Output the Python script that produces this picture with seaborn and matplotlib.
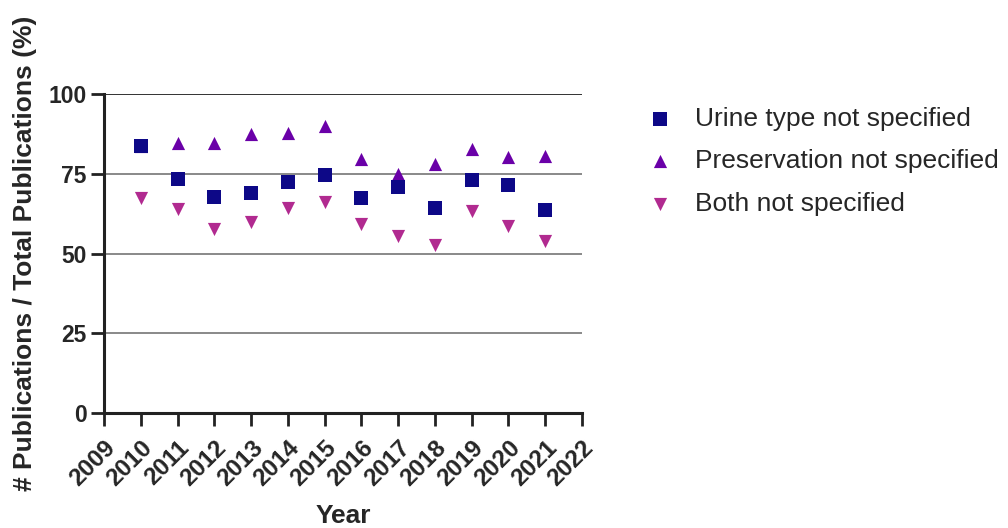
import numpy as np
import pandas as pd
import seaborn as sns
import matplotlib
matplotlib.use("Agg")
import matplotlib.pyplot as plt

years = [2010, 2011, 2012, 2013, 2014, 2015, 2016, 2017, 2018, 2019, 2020, 2021]
urine_type = [83.7, 73.4, 67.7, 69.1, 72.3, 74.5, 67.4, 70.8, 64.3, 73.1, 71.5, 63.7]
preservation = [83.7, 84.7, 84.6, 87.5, 87.9, 90.0, 79.6, 75.0, 78.0, 82.8, 80.1, 80.6]
both = [67.5, 64.0, 57.6, 60.0, 64.4, 66.1, 59.4, 55.5, 52.8, 63.3, 58.6, 53.9]

series_names = ["Urine type not specified", "Preservation not specified", "Both not specified"]
x_ticks = list(range(2009, 2023))
y_ticks = [0, 25, 50, 75, 100]

df = pd.DataFrame({
    "Year": years * 3,
    "value": urine_type + preservation + both,
    "series": np.repeat(series_names, len(years)),
})

sns.set_style("white")
plt.rcParams["font.family"] = ["Liberation Sans", "DejaVu Sans"]

fig = plt.figure(figsize=(10.08, 5.28), dpi=100)
ax = fig.add_axes([104 / 1008, 1 - 413 / 528, (582 - 104) / 1008, (413 - 94) / 528])

colors = {"Urine type not specified": "#0D0887",
          "Preservation not specified": "#6A00A8",
          "Both not specified": "#B12A90"}
markers = {"Urine type not specified": "s",
           "Preservation not specified": "^",
           "Both not specified": "v"}
zorders = {"Urine type not specified": 5,
           "Preservation not specified": 4,
           "Both not specified": 3}

for name in series_names:
    sub = df[df["series"] == name]
    sns.scatterplot(data=sub, x="Year", y="value", ax=ax, color=colors[name],
                    marker=markers[name], s=90, linewidth=0, label=name,
                    zorder=zorders[name], clip_on=False)

ax.set_xlim(2009, 2022)
ax.set_ylim(0, 100)
ax.set_xticks(x_ticks)
ax.set_yticks(y_ticks)
ax.set_xticklabels([str(t) for t in x_ticks], rotation=45, ha="right",
                   rotation_mode="anchor", fontsize=17.5, fontweight="bold")
ax.set_yticklabels([str(t) for t in y_ticks], fontsize=16.5, fontweight="bold")

ax.yaxis.grid(True, color="#808080", linewidth=1.3)
ax.xaxis.grid(False)
ax.get_ygridlines()[-1].set_color("#222222")
ax.set_axisbelow(True)

for side in ["top", "right"]:
    ax.spines[side].set_visible(False)
for side in ["left", "bottom"]:
    ax.spines[side].set_linewidth(2.2)
    ax.spines[side].set_color("#222222")
ax.tick_params(axis="both", direction="out", length=9.5, width=2.0,
               color="#222222", pad=3, left=True, bottom=True)
ax.tick_params(axis="x", pad=7)

ax.set_xlabel("Year", fontsize=19, fontweight="bold", labelpad=10)
ax.set_ylabel("# Publications / Total Publications (%)", fontsize=19,
              fontweight="bold", labelpad=8)

ax.legend(loc="upper left", bbox_to_anchor=(0.631, 0.818),
          bbox_transform=fig.transFigure, frameon=False, fontsize=19,
          handlelength=1.0, handletextpad=0.85, labelspacing=0.7,
          borderaxespad=0)

fig.savefig("out.png", dpi=100)
